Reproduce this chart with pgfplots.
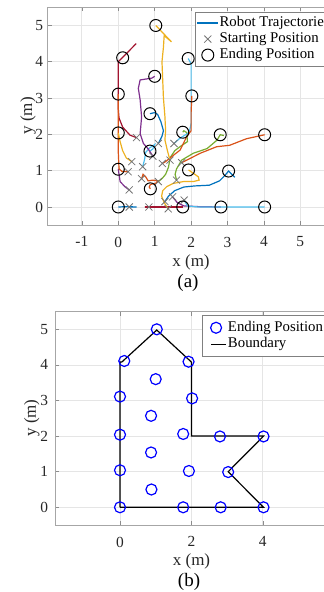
\documentclass[border=0pt]{standalone}
\usepackage{fontspec}
\setmainfont{Liberation Serif}
\usepackage{pgfplots}
\pgfplotsset{compat=1.18}
\definecolor{mblue}{RGB}{0,114,189}
\definecolor{morange}{RGB}{217,83,25}
\definecolor{myellow}{RGB}{237,177,32}
\definecolor{mpurple}{RGB}{126,47,142}
\definecolor{mgreen}{RGB}{119,172,48}
\definecolor{mlblue}{RGB}{77,190,238}
\definecolor{mred}{RGB}{162,20,47}
\definecolor{axgray}{RGB}{38,38,38}
\pgfplotsset{
  mstyle/.style={
    axis line style={black!35, line width=0.4pt},
    grid=major,
    major grid style={black!10, line width=0.4pt},
    tick style={black!45, line width=0.3pt},
    major tick length=2pt,
    tick align=inside,
    ticklabel style={font=\fontsize{7.7}{8}\selectfont, text=axgray},
    /pgf/number format/assume math mode=true,
    xticklabel style={yshift=-2.3pt},
    legend cell align=left,
  },
  traj/.style={no marks, line width=0.6pt, forget plot},
  % line legend image: #1 = bbox width, #2 = line start, #3 = line end
  lineleg/.style n args={3}{legend image code/.code={%
    \pgfpathmoveto{\pgfpoint{0pt}{0pt}}\pgfpathmoveto{\pgfpoint{#1}{0pt}}\pgfusepath{discard}%
    \draw[##1] (#2,0pt) -- (#3,0pt);}},
  % mark legend image: #1 = bbox width, #2 = mark position
  markleg/.style 2 args={legend image code/.code={%
    \pgfpathmoveto{\pgfpoint{0pt}{0pt}}\pgfpathmoveto{\pgfpoint{#1}{0pt}}\pgfusepath{discard}%
    \draw[##1] plot coordinates {(#2,0pt)};}},
}
\begin{document}
\begin{tikzpicture}
\path[use as bounding box] (0,0) rectangle (162pt,296pt);
\clip (0,0) rectangle (162pt,296pt);
% ---------------- (a) ----------------
\begin{axis}[mstyle,
  x=18.2pt, y=18.15pt,
  at={(59.15pt,192.5pt)}, anchor=origin,
  xmin=-1.94, xmax=5.94, ymin=-0.5, ymax=5.5,
  xtick={-1,0,1,2,3,4,5}, ytick={0,1,2,3,4,5},
  yticklabel style={xshift=1.2pt},
  legend style={at={(axis cs:2.107,5.38)}, anchor=north west,
    draw=black!50, line width=0.4pt, fill=white,
    font=\fontsize{7.4}{8}\selectfont, inner xsep=0pt, inner ysep=1.5pt,
    nodes={inner xsep=0.5pt, inner ysep=0.5pt, text height=5.3pt, text depth=1.7pt}},
]
\addlegendimage{mblue, line width=0.7pt, lineleg={11.6pt}{0.85pt}{11.15pt}}
\addlegendentry{Robot Trajectories}
\addlegendimage{only marks, mark=x, mark size=2.5pt, black!55, line width=0.4pt, markleg={11.6pt}{6.2pt}}
\addlegendentry{Starting Position}
\addlegendimage{only marks, mark=o, mark size=3pt, black, line width=0.5pt, markleg={11.6pt}{6.2pt}}
\addlegendentry{Ending Position}
% trajectories
\addplot[traj, mblue] coordinates {(0.3,0) (0.5,0) (0.25,0.01) (0,0)};
\addplot[traj, mred] coordinates {(0.84,0) (0.73,0) (1.2,0) (1.77,0)};
\addplot[traj, myellow] coordinates {(1.37,-0.05) (1.26,0.12) (1.19,0.3) (1.22,0.45) (1.33,0.56) (1.51,0.65) (1.79,0.7) (2.06,0.7) (2.22,0.74) (2.2,0.83) (2.06,0.93) (1.93,1.02)};
\addplot[traj, mblue] coordinates {(1.28,0.15) (1.38,0.3) (1.55,0.45) (1.8,0.55) (2.1,0.58) (2.5,0.6) (2.78,0.72) (2.92,0.86) (3.03,0.99) (3.2,0.82)};
\addplot[traj, mpurple] coordinates {(1.49,0.28) (1.62,0.12) (1.8,0.03) (2.2,0.01) (2.82,0.0)};
\addplot[traj, mlblue] coordinates {(1.81,0.19) (1.9,0.03) (2.2,0.0) (3.0,0.0) (4.02,0.0)};
\addplot[traj, mpurple] coordinates {(0.3,0.47) (0.18,0.56) (0.05,0.7) (0.0,1.04)};
\addplot[traj, morange] coordinates {(0.64,0.78) (0.68,0.9) (0.76,0.82) (0.82,0.72) (0.95,0.74) (1.1,0.72) (1.02,0.65) (0.88,0.62) (0.85,0.55) (0.88,0.5)};
\addplot[traj, mgreen] coordinates {(1.1,0.7) (1.2,0.78) (1.3,0.9) (1.38,1.1) (1.42,1.35) (1.55,1.55) (1.72,1.68) (1.9,1.8) (1.88,2.05) (1.8,2.1) (1.77,2.06)};
\addplot[traj, mgreen] coordinates {(1.6,0.74) (1.56,0.9) (1.6,1.05) (1.74,1.29) (2.06,1.48) (2.44,1.61) (2.71,1.84) (2.8,1.99) (2.9,1.97)};
\addplot[traj, mred] coordinates {(0.5,1.91) (0.32,1.98) (0.12,2.2) (0.02,2.45) (0.0,2.7) (0.0,4.0) (0.12,4.12) (0.49,4.5)};
\addplot[traj, morange] coordinates {(0.27,0.97) (0.1,0.98) (0.02,1.05) (0.0,1.5) (0.0,2.7) (0.0,3.11)};
\addplot[traj, mlblue] coordinates {(0.67,1.11) (0.72,1.3) (0.75,1.5) (0.85,1.62) (1.0,1.72) (0.95,1.6) (0.87,1.54)};
\addplot[traj, myellow] coordinates {(0.37,1.25) (0.22,1.35) (0.12,1.55) (0.05,1.8) (0.0,2.04)};
\addplot[traj, mlblue] coordinates {(1.53,1.75) (1.7,1.9) (1.95,2.05) (2.0,2.3) (2.0,3.5) (2.0,3.95) (1.92,4.09)};
\addplot[traj, morange] coordinates {(1.21,1.2) (1.3,1.25) (1.42,1.35) (1.7,1.57) (1.88,1.94) (2.0,2.1) (2.0,2.6) (2.02,3.06)};
\addplot[traj, morange] coordinates {(1.74,1.22) (1.88,1.29) (2.25,1.48) (2.7,1.66) (3.06,1.7) (3.52,1.88) (4.02,1.99)};
\addplot[traj, mblue] coordinates {(1.1,1.75) (1.2,1.95) (1.24,2.1) (1.17,2.35) (1.08,2.55) (1.0,2.6) (0.87,2.57)};
\addplot[traj, myellow] coordinates {(1.42,1.29) (1.35,1.55) (1.28,1.85) (1.3,2.1) (1.28,2.5) (1.24,3.0) (1.22,3.5) (1.2,4.0) (1.24,4.4) (1.26,4.72) (1.46,4.55) (1.03,5.0)};
\addplot[traj, mpurple] coordinates {(0.95,1.4) (0.82,1.6) (0.69,1.75) (0.6,2.02) (0.64,2.48) (0.6,2.95) (0.55,3.27) (0.6,3.5) (0.92,3.55) (1.0,3.6)};
% starting positions
\addplot[only marks, mark=x, mark size=2.5pt, black!55, line width=0.4pt, forget plot] coordinates {
(0.3,0) (0.84,0) (1.37,-0.05) (1.28,0.15) (1.49,0.28) (1.81,0.19) (0.3,0.47) (0.64,0.78) (1.1,0.7) (1.6,0.74)
(0.5,1.91) (0.27,0.97) (0.67,1.11) (0.37,1.25) (1.53,1.75) (1.21,1.2) (1.74,1.22) (1.1,1.75) (1.42,1.29) (0.95,1.4)};
% ending positions
\addplot[only marks, mark=o, mark size=3pt, black, line width=0.5pt, forget plot] coordinates {
(1.03,5.0) (0.12,4.11) (1.92,4.09) (1.0,3.6) (0,3.11) (2.02,3.06) (0.87,2.57) (0,2.04) (1.77,2.06) (2.8,1.99)
(4.02,1.99) (0.87,1.54) (0,1.04) (1.93,1.02) (3.03,0.99) (0.88,0.5) (0,0) (1.77,0) (2.82,0) (4.02,0)};
\end{axis}
% ---------------- (b) ----------------
\begin{axis}[mstyle,
  x=17.85pt, y=17.8pt,
  at={(60pt,42.35pt)}, anchor=origin,
  xmin=-1.82, xmax=5.82, ymin=-0.5, ymax=5.5,
  xtick={0,2,4}, ytick={0,1,2,3,4,5},
  legend style={at={(axis cs:2.305,5.40)}, anchor=north west,
    draw=black!50, line width=0.4pt, fill=white,
    font=\fontsize{7.4}{8}\selectfont, inner xsep=0pt, inner ysep=2pt,
    nodes={inner xsep=0.5pt, inner ysep=0.65pt, text height=5.3pt, text depth=1.7pt}},
]
\addlegendimage{only marks, mark=o, mark size=2.75pt, blue, line width=0.6pt, markleg={12pt}{6.7pt}}
\addlegendentry{Ending Position}
\addlegendimage{black, line width=0.6pt, lineleg={12pt}{4.35pt}{11.85pt}}
\addlegendentry{Boundary}
\addplot[black, line width=0.6pt, no marks, forget plot] coordinates {
(0,0) (4.02,0) (3.03,1) (4.02,2) (2,2) (2,4.08) (1.03,4.98) (0.05,4.08) (0,4.08) (0,0)};
\addplot[only marks, mark=o, mark size=2.75pt, blue, line width=0.6pt, forget plot] coordinates {
(1.03,5.0) (0.12,4.11) (1.92,4.09) (1.0,3.6) (0,3.11) (2.02,3.06) (0.87,2.57) (0,2.04) (1.77,2.06) (2.8,1.99)
(4.02,1.99) (0.87,1.54) (0,1.04) (1.93,1.02) (3.03,0.99) (0.88,0.5) (0,0) (1.77,0) (2.82,0) (4.02,0)};
\end{axis}
% labels and captions
\node[font=\fontsize{8.5}{9}\selectfont, text=axgray] at (95.5pt,164.65pt) {x (m)};
\node[font=\fontsize{8.5}{9}\selectfont, text=axgray, rotate=90] at (14pt,238pt) {y (m)};
\node[font=\fontsize{9.5}{10}\selectfont] at (94pt,154.35pt) {(a)};
\node[font=\fontsize{8.5}{9}\selectfont, text=axgray] at (95.75pt,15.15pt) {x (m)};
\node[font=\fontsize{8.5}{9}\selectfont, text=axgray, rotate=90] at (15.85pt,87pt) {y (m)};
\node[font=\fontsize{9.5}{10}\selectfont] at (94.5pt,5.15pt) {(b)};
\end{tikzpicture}
\end{document}
